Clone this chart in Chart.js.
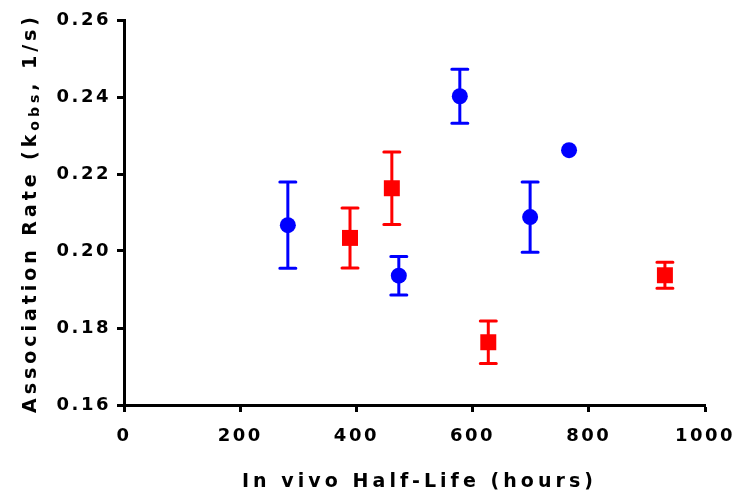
<!DOCTYPE html>
<html>
<head>
<meta charset="utf-8">
<script src="https://cdn.jsdelivr.net/npm/chart.js@4"></script>
<style>
  body { margin: 0; background: #fff; }
</style>
</head>
<body>
<canvas id="chart" width="734" height="495"></canvas>
<script>
// data
const blueX = [282, 473, 578, 699, 766];
const blueY = [0.2067, 0.1936, 0.2402, 0.2088, 0.2262];
const blueErr = [0.0112, 0.0050, 0.0070, 0.0091, 0];

const redX = [389, 461, 627, 931];
const redY = [0.2034, 0.2163, 0.1763, 0.1937];
const redErr = [0.0078, 0.0094, 0.0055, 0.0034];

const xTicks = [0, 200, 400, 600, 800, 1000];
const yTicks = [0.16, 0.18, 0.20, 0.22, 0.24, 0.26];

function points(xs, ys, errs) {
  return xs.map((x, i) => ({ x: x, y: ys[i], err: errs[i] }));
}

const FONT = '"DejaVu Sans", sans-serif';

// letter spacing for tick labels
const spacing = {
  id: 'spacing',
  beforeLayout(chart) { chart.ctx.letterSpacing = '2.5px'; },
  beforeDraw(chart) { chart.ctx.letterSpacing = '2.5px'; }
};

// error bars under the markers
const errorBars = {
  id: 'errorBars',
  beforeDatasetsDraw(chart) {
    const ctx = chart.ctx;
    const xs = chart.scales.x, ys = chart.scales.y;
    ctx.save();
    ctx.lineWidth = 3;
    ctx.lineCap = 'round';
    chart.data.datasets.forEach(ds => {
      ctx.strokeStyle = ds.borderColor;
      ds.data.forEach(p => {
        if (!p.err) return;
        const px = xs.getPixelForValue(p.x);
        const top = ys.getPixelForValue(p.y + p.err);
        const bot = ys.getPixelForValue(p.y - p.err);
        ctx.beginPath();
        ctx.moveTo(px, top); ctx.lineTo(px, bot);
        ctx.moveTo(px - 8, top); ctx.lineTo(px + 8, top);
        ctx.moveTo(px - 8, bot); ctx.lineTo(px + 8, bot);
        ctx.stroke();
      });
    });
    ctx.restore();
  }
};

// axis titles (y one has a subscript), spread to the reference width
const titles = {
  id: 'titles',
  afterDraw(chart) {
    const ctx = chart.ctx;
    ctx.save();
    ctx.fillStyle = '#000';
    ctx.textBaseline = 'alphabetic';

    const xt = 'In vivo Half-Life (hours)';
    ctx.letterSpacing = '0px';
    ctx.font = 'bold 19px ' + FONT;
    const xw = ctx.measureText(xt).width;
    const xls = (351 - xw) / (xt.length - 1);
    ctx.letterSpacing = xls + 'px';
    ctx.textAlign = 'left';
    ctx.fillText(xt, 242, 487);

    const a = 'Association Rate (k', b = 'obs', c = ', 1/s)';
    ctx.letterSpacing = '0px';
    ctx.font = 'bold 19px ' + FONT;
    const wa = ctx.measureText(a).width, wc = ctx.measureText(c).width;
    ctx.font = 'bold 14px ' + FONT;
    const wb = ctx.measureText(b).width;
    const n = a.length + b.length + c.length - 1;
    const yls = (396 - wa - wb - wc) / n;

    ctx.translate(36, 413);
    ctx.rotate(-Math.PI / 2);
    ctx.letterSpacing = yls + 'px';
    let x = 0;
    ctx.font = 'bold 19px ' + FONT;
    ctx.fillText(a, x, 0);
    x += ctx.measureText(a).width;
    ctx.font = 'bold 14px ' + FONT;
    ctx.fillText(b, x, 3);
    x += ctx.measureText(b).width;
    ctx.font = 'bold 19px ' + FONT;
    ctx.fillText(c, x, 0);
    ctx.restore();
  }
};

const tickFont = { family: FONT, size: 18, weight: 'bold' };

new Chart(document.getElementById('chart'), {
  type: 'scatter',
  data: {
    datasets: [{
      label: 'blue',
      data: points(blueX, blueY, blueErr),
      backgroundColor: '#0000ff',
      borderColor: '#0000ff',
      pointStyle: 'circle',
      pointRadius: 8,
      pointBorderWidth: 0
    }, {
      label: 'red',
      data: points(redX, redY, redErr),
      backgroundColor: '#ff0000',
      borderColor: '#ff0000',
      pointStyle: 'rect',
      pointRadius: 11.3,
      pointBorderWidth: 0
    }]
  },
  options: {
    responsive: false,
    animation: false,
    layout: { padding: { top: 20, right: 29, bottom: 0, left: 0 } },
    plugins: { legend: { display: false }, tooltip: { enabled: false } },
    scales: {
      x: {
        type: 'linear',
        min: 0, max: 1000,
        afterBuildTicks: s => { s.ticks = xTicks.map(v => ({ value: v })); },
        afterFit: s => { s.height = 90; s.paddingLeft = 0; s.paddingRight = 0; },
        border: { color: '#000', width: 3 },
        grid: { drawOnChartArea: false, drawTicks: true, tickLength: 7, tickWidth: 3, tickColor: '#000' },
        ticks: { color: '#000', font: tickFont, padding: 14, maxRotation: 0, callback: v => String(v) }
      },
      y: {
        min: 0.16, max: 0.26,
        afterBuildTicks: s => { s.ticks = yTicks.map(v => ({ value: v })); },
        afterFit: s => { s.width = 124; s.paddingTop = 0; s.paddingBottom = 0; },
        border: { color: '#000', width: 3 },
        grid: { drawOnChartArea: false, drawTicks: true, tickLength: 7, tickWidth: 3, tickColor: '#000' },
        ticks: { color: '#000', font: tickFont, padding: 6, callback: v => v.toFixed(2) }
      }
    }
  },
  plugins: [spacing, errorBars, titles]
});
</script>
</body>
</html>
